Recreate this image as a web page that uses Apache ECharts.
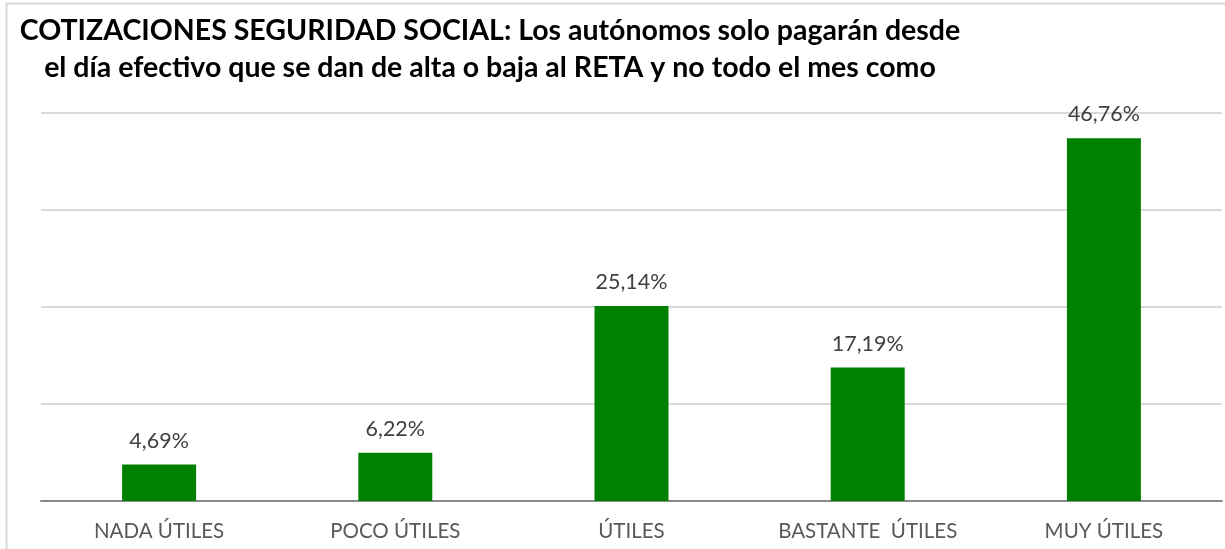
<!DOCTYPE html>
<html>
<head>
<meta charset="utf-8">
<script src="https://cdn.jsdelivr.net/npm/echarts@6/dist/echarts.min.js"></script>
<style>
  html, body { margin: 0; padding: 0; background: #fff; }
  #chart { width: 1225px; height: 549px; }
</style>
</head>
<body>
<div id="chart"></div>
<script>
// categorias y valores (%)
var categories = ['NADA ÚTILES', 'POCO ÚTILES', 'ÚTILES', 'BASTANTE  ÚTILES', 'MUY ÚTILES'];
var values = [4.69, 6.22, 25.14, 17.19, 46.76];
var titleText = 'COTIZACIONES SEGURIDAD SOCIAL: Los autónomos solo pagarán desde\nel día efectivo que se dan de alta o baja al RETA y no todo el mes como';

var myChart = echarts.init(document.getElementById('chart'));

var option = {
  animation: false,
  title: {
    text: titleText,
    left: 485,
    top: 7,
    textAlign: 'center',
    textStyle: {
      fontFamily: 'Lato',
      fontSize: 28.5,
      fontWeight: 'bold',
      color: '#000000',
      lineHeight: 37,
      align: 'center'
    }
  },
  // marco del grafico
  graphic: [
    {
      type: 'rect',
      shape: { x: 6.5, y: 3.5, width: 1240, height: 600 },
      style: { fill: 'none', stroke: '#d9d9d9', lineWidth: 2 },
      silent: true
    }
  ],
  grid: {
    top: 113,
    left: 41,
    right: 3,
    bottom: 48
  },
  xAxis: {
    type: 'category',
    data: categories,
    axisLine: { lineStyle: { color: '#898989', width: 2 } },
    axisTick: { show: false },
    axisLabel: {
      color: '#595959',
      fontFamily: 'Lato',
      fontSize: 20.5,
      margin: 20
    }
  },
  yAxis: {
    type: 'value',
    min: 0,
    max: 50,
    interval: 12.5,
    axisLabel: { show: false },
    axisLine: { show: false },
    axisTick: { show: false },
    splitLine: { lineStyle: { color: '#d9d9d9', width: 2 } }
  },
  series: [
    {
      type: 'bar',
      data: values,
      barWidth: 74,
      itemStyle: { color: '#008000' },
      label: {
        show: true,
        position: 'top',
        distance: 13,
        color: '#404040',
        fontFamily: 'Lato',
        fontSize: 21.5,
        formatter: function (p) {
          return p.value.toFixed(2).replace('.', ',') + '%';
        }
      }
    }
  ]
};

myChart.setOption(option);
</script>
</body>
</html>
